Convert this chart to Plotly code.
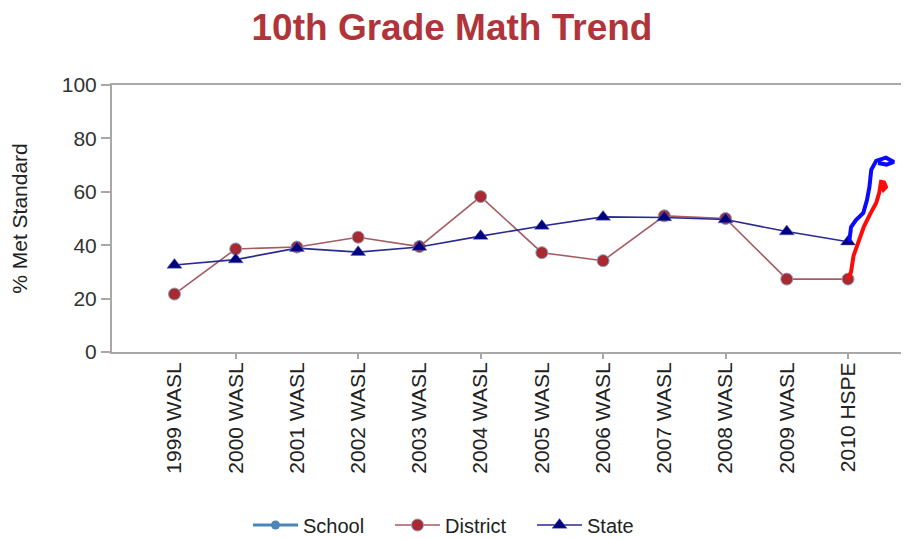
import plotly.graph_objects as go

categories = ["1999 WASL", "2000 WASL", "2001 WASL", "2002 WASL", "2003 WASL", "2004 WASL",
              "2005 WASL", "2006 WASL", "2007 WASL", "2008 WASL", "2009 WASL", "2010 HSPE"]
school = [None] * len(categories)
district = [21.7, 38.6, 39.3, 43.0, 39.5, 58.2, 37.2, 34.2, 51.0, 50.0, 27.3, 27.3]
state = [32.6, 34.6, 38.9, 37.4, 39.3, 43.4, 47.2, 50.6, 50.4, 49.6, 45.1, 41.3]

# hand-drawn annotation strokes (x in category index units, y in %)
red_stroke_x = [11.0, 11.05, 11.09, 11.17, 11.26, 11.37, 11.46, 11.51, 11.54, 11.59, 11.62, 11.58, 11.55]
red_stroke_y = [27.3, 30.0, 36.0, 41.5, 47.0, 52.0, 55.8, 59.6, 63.7, 63.5, 61.8, 60.8, 62.5]
blue_stroke_x = [11.02, 11.05, 11.13, 11.25, 11.31, 11.35, 11.38, 11.46, 11.62, 11.75, 11.63, 11.49]
blue_stroke_y = [41.3, 46.8, 49.4, 52.1, 56.9, 61.8, 68.2, 71.6, 72.8, 71.2, 70.2, 70.8]

idx = list(range(len(categories)))
FONT = "Liberation Sans, Arial, sans-serif"

# page is offset by the 8px body margin; figure sized to fit inside the viewport
W, H = 901, 531
ML, MR, MT, MB = 104, 1, 77, 187

fig = go.Figure()
fig.add_trace(go.Scatter(x=idx, y=school, name="School", mode="lines+markers",
                         line=dict(color="#4a86b8", width=3),
                         marker=dict(symbol="circle", size=9, color="#4a86b8")))
fig.add_trace(go.Scatter(x=idx, y=district, name="District", mode="lines+markers",
                         line=dict(color="#a85a62", width=1.6),
                         marker=dict(symbol="circle", size=12, color="#a82a30",
                                     line=dict(color="#8aa0c0", width=1))))
fig.add_trace(go.Scatter(x=idx, y=state, name="State", mode="lines+markers",
                         line=dict(color="#2a2a90", width=1.6),
                         marker=dict(symbol="triangle-up", size=13, color="#000080",
                                     line=dict(color="#6070b0", width=0.5))))
fig.add_trace(go.Scatter(x=red_stroke_x, y=red_stroke_y, mode="lines", showlegend=False,
                         line=dict(color="#ff0a0a", width=4), hoverinfo="skip"))
fig.add_trace(go.Scatter(x=blue_stroke_x, y=blue_stroke_y, mode="lines", showlegend=False,
                         line=dict(color="#0a0aff", width=4), hoverinfo="skip"))
# invisible trace on overlay axis to carry the every-other tick marks
fig.add_trace(go.Scatter(x=[idx[0]], y=[None], xaxis="x2", showlegend=False, hoverinfo="skip"))

xr = [-1.02, 11.98]
plot_w = W - ML - MR
plot_h = H - MT - MB
fig.update_layout(
    width=W, height=H,
    paper_bgcolor="white", plot_bgcolor="white",
    margin=dict(l=ML, r=MR, t=MT, b=MB, autoexpand=False),
    title=dict(text="<b>10th Grade Math Trend</b>", x=444 / W, xanchor="center",
               y=1 - 19 / H, yanchor="middle",
               font=dict(family=FONT, size=37, color="#b0343a")),
    xaxis=dict(range=xr, tickmode="array", tickvals=idx, ticktext=categories,
               tickangle=-90, ticks="", showgrid=False, zeroline=False, automargin=False,
               showline=True, linecolor="#a8a8a8", linewidth=2, mirror=True,
               tickfont=dict(family=FONT, size=21, color="#222222")),
    xaxis2=dict(range=xr, overlaying="x", side="bottom", tickmode="array",
                tickvals=[1, 3, 5, 7, 9, 11], showticklabels=False, ticks="outside",
                ticklen=6, tickcolor="#a8a8a8", tickwidth=2, showgrid=False, zeroline=False,
                showline=False, automargin=False),
    yaxis=dict(range=[0, 100], tickmode="array", tickvals=[0, 20, 40, 60, 80, 100],
               ticks="outside", ticklen=9, tickcolor="#a8a8a8", tickwidth=2, automargin=False,
               showgrid=False, zeroline=False, showline=True, linecolor="#a8a8a8", linewidth=2,
               tickfont=dict(family=FONT, size=21, color="#333333"),
               title=dict(text="% Met Standard", standoff=28,
                          font=dict(family=FONT, size=21, color="#222222"))),
    legend=dict(orientation="h", x=(248 - 8 - ML) / plot_w, xanchor="left",
                y=(344 - 517) / plot_h, yanchor="middle",
                font=dict(family=FONT, size=20, color="#222222"),
                itemwidth=45, entrywidth=82, entrywidthmode="pixels", traceorder="normal"),
    shapes=[dict(type="line", xref="paper", yref="paper", x0=1, x1=1, y0=0, y1=1,
                 line=dict(color="#e4e4e4", width=1))],
)

fig.write_html("out.html")
